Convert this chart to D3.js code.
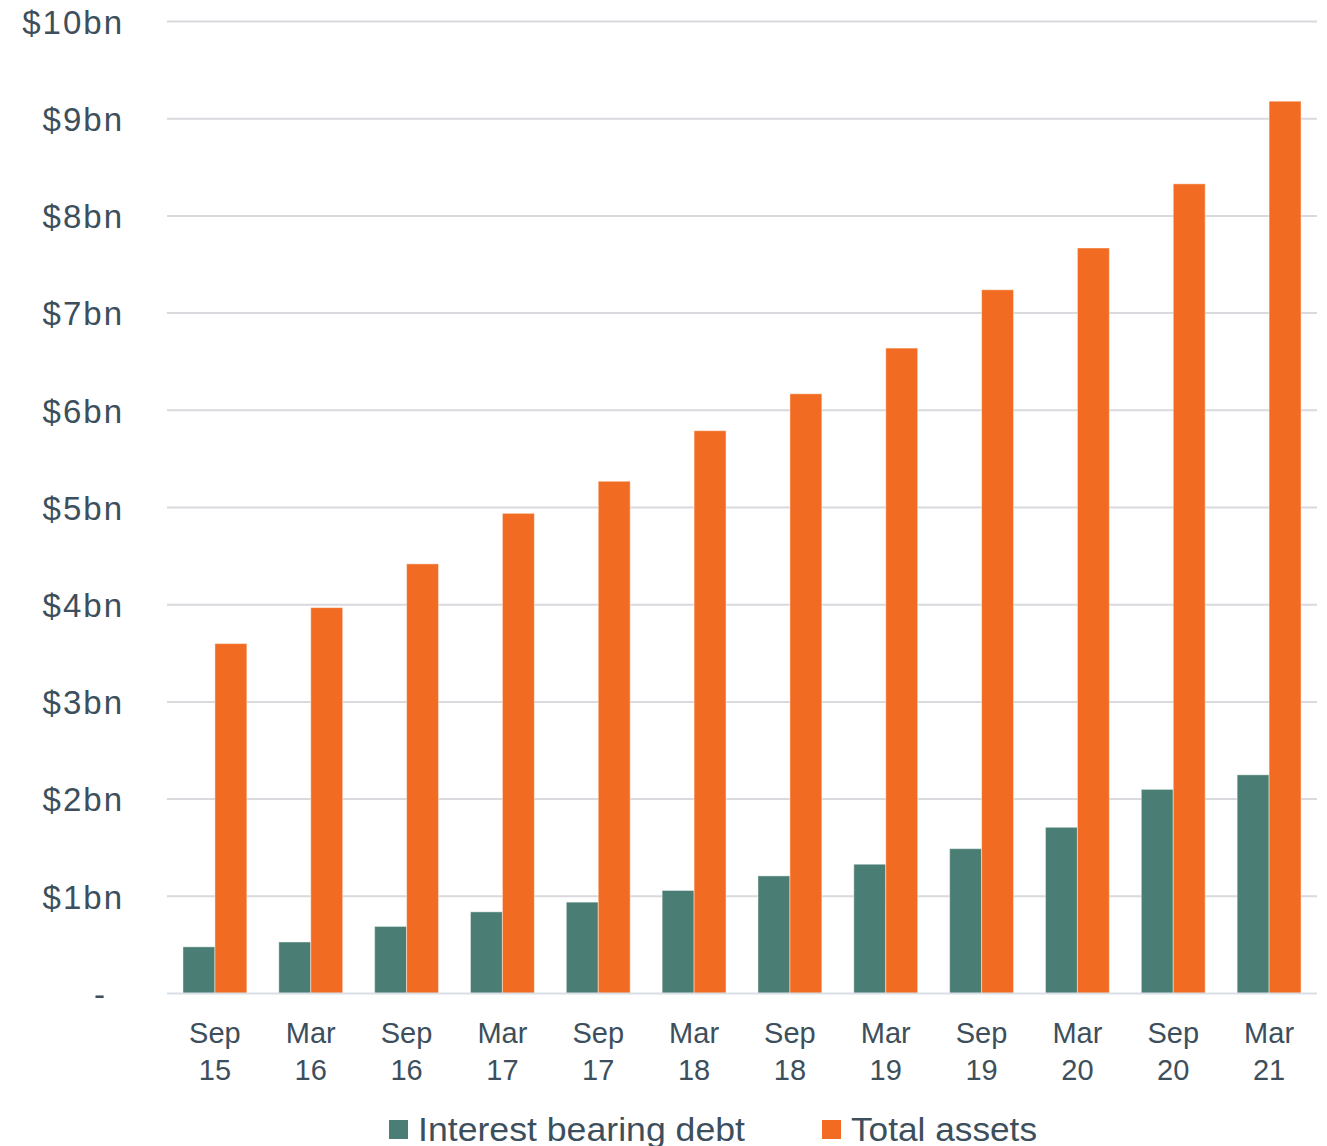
<!DOCTYPE html>
<html>
<head>
<meta charset="utf-8">
<script src="https://cdn.jsdelivr.net/npm/d3@7"></script>
<style>
  body { margin: 0; background: #fff; }
  svg text { font-family: "Liberation Sans", Arial, sans-serif; fill: #3d4f5c; }
</style>
</head>
<body>
<svg></svg>
<script>
var periods = ['Sep 15', 'Mar 16', 'Sep 16', 'Mar 17', 'Sep 17', 'Mar 18', 'Sep 18', 'Mar 19', 'Sep 19', 'Mar 20', 'Sep 20', 'Mar 21'];
var debt = [0.48, 0.53, 0.69, 0.84, 0.94, 1.06, 1.21, 1.33, 1.49, 1.71, 2.10, 2.25];
var assets = [3.60, 3.97, 4.42, 4.94, 5.27, 5.79, 6.17, 6.64, 7.24, 7.67, 8.33, 9.18];
var yTicks = [0, 1, 2, 3, 4, 5, 6, 7, 8, 9, 10];
var seriesNames = ['Interest bearing debt', 'Total assets'];
var colors = ['#4a7d74', '#f26b22'];

var width = 1327, height = 1146;
var plotLeft = 167, plotRight = 1317, plotTop = 21.5, plotBottom = 993.5;

var svg = d3.select('svg')
    .attr('width', width)
    .attr('height', height);

var x = d3.scaleBand()
    .domain(periods)
    .range([plotLeft, plotRight])
    .paddingInner(1 / 3)
    .paddingOuter(1 / 6);

var xSub = d3.scaleBand()
    .domain([0, 1])
    .range([0, x.bandwidth()]);

var y = d3.scaleLinear()
    .domain([0, 10])
    .range([plotBottom, plotTop]);

// gridlines
svg.append('g')
  .selectAll('line')
  .data(yTicks.filter(d => d > 0))
  .enter()
  .append('line')
    .attr('x1', plotLeft)
    .attr('x2', plotRight)
    .attr('y1', d => y(d))
    .attr('y2', d => y(d))
    .attr('stroke', '#d9d9de')
    .attr('stroke-width', 2);

// y labels
var yAxis = d3.axisLeft(y)
    .tickValues(yTicks)
    .tickSize(0)
    .tickPadding(0)
    .tickFormat(d => d === 0 ? '-' : '$' + d + 'bn');

svg.append('g')
    .attr('transform', 'translate(124,0)')
    .call(yAxis)
    .call(g => g.select('.domain').remove())
    .call(g => g.selectAll('text')
        .attr('font-size', 33)
        .attr('letter-spacing', 2)
        .attr('dy', '0.36em')
        .style('font-family', '"Liberation Sans", Arial, sans-serif')
        .attr('fill', '#3d4f5c'))
    .call(g => g.selectAll('.tick').filter(d => d === 0).select('text')
        .attr('x', -17));

var series = [debt, assets];

series.forEach(function(values, s) {
  svg.append('g')
    .selectAll('rect')
    .data(values)
    .enter()
    .append('rect')
      .attr('x', (d, i) => x(periods[i]) + xSub(s))
      .attr('width', xSub.bandwidth())
      .attr('y', d => y(d))
      .attr('height', d => y(0) - y(d))
      .attr('fill', colors[s])
      .attr('stroke', 'rgba(255,255,255,0.45)')
      .attr('stroke-width', 1);
});

// baseline
svg.append('line')
    .attr('x1', plotLeft)
    .attr('x2', plotRight)
    .attr('y1', y(0))
    .attr('y2', y(0))
    .attr('stroke', '#d8dfe6')
    .attr('stroke-width', 2);

// x labels
var xl = svg.append('g')
  .selectAll('text')
  .data(periods)
  .enter()
  .append('text')
    .attr('x', d => x(d) + x.bandwidth() / 2)
    .attr('text-anchor', 'middle')
    .attr('font-size', 29);

xl.append('tspan')
    .attr('x', d => x(d) + x.bandwidth() / 2)
    .attr('y', 1043)
    .text(d => d.split(' ')[0]);
xl.append('tspan')
    .attr('x', d => x(d) + x.bandwidth() / 2)
    .attr('y', 1080)
    .text(d => d.split(' ')[1]);

// legend
var legendX = [389, 822];
var legend = svg.append('g')
  .selectAll('g')
  .data(seriesNames)
  .enter()
  .append('g')
    .attr('transform', (d, i) => `translate(${legendX[i]},0)`);

legend.append('rect')
    .attr('x', 0)
    .attr('y', 1120)
    .attr('width', 19)
    .attr('height', 19)
    .attr('fill', (d, i) => colors[i]);

legend.append('text')
    .attr('x', 29)
    .attr('y', 1141)
    .attr('font-size', 33)
    .attr('textLength', (d, i) => i === 0 ? 327 : 186)
    .attr('lengthAdjust', 'spacingAndGlyphs')
    .text(d => d);
</script>
</body>
</html>
